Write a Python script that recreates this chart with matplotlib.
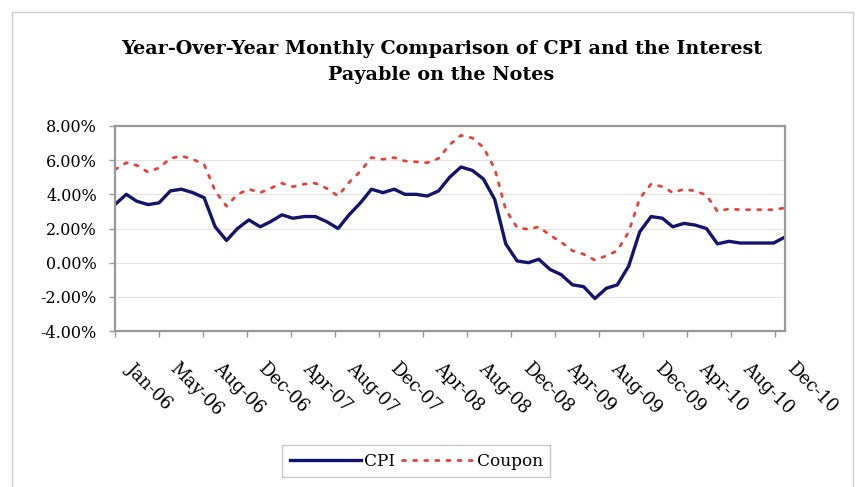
import pandas as pd
import matplotlib
matplotlib.use("Agg")
import matplotlib.pyplot as plt
import matplotlib.dates as mdates
from matplotlib.patches import Rectangle

# monthly points, Jan-06 .. Jan-11 (values in %)
fechas = pd.date_range("2006-01-01", periods=61, freq="MS")

cpi = [3.4, 4.0, 3.6, 3.4, 3.5, 4.2, 4.3, 4.1, 3.8, 2.1, 1.3, 2.0,
       2.5, 2.1, 2.4, 2.8, 2.6, 2.7, 2.7, 2.4, 2.0, 2.8, 3.5, 4.3,
       4.1, 4.3, 4.0, 4.0, 3.9, 4.2, 5.0, 5.6, 5.4, 4.9, 3.7, 1.1,
       0.1, 0.0, 0.2, -0.4, -0.7, -1.3, -1.4, -2.1, -1.5, -1.3, -0.2, 1.8,
       2.7, 2.6, 2.1, 2.3, 2.2, 2.0, 1.1, 1.25, 1.15, 1.15, 1.15, 1.15,
       1.5]

coupon = [5.45, 5.85, 5.7, 5.3, 5.55, 6.1, 6.25, 6.05, 5.75, 4.2, 3.3, 4.0,
          4.3, 4.1, 4.35, 4.65, 4.45, 4.6, 4.65, 4.35, 3.9, 4.7, 5.35, 6.15,
          6.05, 6.15, 5.95, 5.9, 5.85, 6.1, 6.9, 7.45, 7.3, 6.75, 5.5, 3.1,
          2.05, 1.95, 2.1, 1.6, 1.2, 0.7, 0.5, 0.15, 0.4, 0.7, 1.8, 3.75,
          4.6, 4.45, 4.1, 4.3, 4.2, 3.95, 3.0, 3.15, 3.1, 3.1, 3.1, 3.1,
          3.2]

# etiquetas cada 120 dias desde Jan-06 (como el eje de fechas original)
ticks_x = [fechas[0] + pd.Timedelta(days=120 * k) for k in range(16)]
etiquetas_x = [t.strftime("%b-%y") for t in ticks_x]
ticks_y = [-4, -2, 0, 2, 4, 6, 8]
etiquetas_y = ["%.2f%%" % v for v in ticks_y]

plt.rcParams["font.family"] = ["DejaVu Serif"]

fig = plt.figure(figsize=(8.67, 4.87), dpi=100)
ax = fig.add_axes([0.1326, 0.3203, 0.7728, 0.4210])

ax.plot(fechas, cpi, color="#14146e", linewidth=2.4, label="CPI",
        solid_joinstyle="round")
ax.plot(fechas, coupon, color="#e8413a", linewidth=2.0,
        linestyle=(0, (1.1, 2.9)), label="Coupon", dash_capstyle="round")

ax.set_xlim(fechas[0], fechas[-1])
ax.set_ylim(-4, 8)
ax.set_yticks(ticks_y)
ax.set_yticklabels(etiquetas_y, fontsize=11.5)
ax.set_xticks(ticks_x)
ax.set_xticklabels([])
# etiquetas rotadas a mano, para poder correrlas a la derecha del tick
for t, txt in zip(ticks_x, etiquetas_x):
    ax.annotate(txt, xy=(mdates.date2num(t.to_pydatetime()), 0),
                xycoords=ax.get_xaxis_transform(),
                xytext=(10, -25), textcoords="offset points", fontsize=12.8,
                rotation=-45, ha="left", va="center", rotation_mode="anchor",
                annotation_clip=False)

ax.grid(True, axis="y", color="#e4e4e4", linewidth=0.8)
ax.set_axisbelow(True)
for s in ax.spines.values():
    s.set_color("#999999")
    s.set_linewidth(1.6)
ax.tick_params(axis="both", color="#999999", direction="out", length=4, width=1)
ax.tick_params(axis="y", pad=9)

fig.text(0.509, 0.873, "Year-Over-Year Monthly Comparison of CPI and the Interest\n"
         "Payable on the Notes", ha="center", va="center", fontsize=13.8,
         fontweight="bold", linespacing=1.6)

leg = fig.legend(loc="center", bbox_to_anchor=(0.48, 0.053), ncol=2,
                 fontsize=12.2, frameon=True, fancybox=False, handlelength=4.2,
                 columnspacing=0.4, handletextpad=0.2, borderpad=0.45)
leg.get_frame().set_edgecolor("#bbbbbb")
leg.get_frame().set_linewidth(1.0)

fig.patches.append(Rectangle((12 / 867, -0.05), 841 / 867, 1 - 12 / 487 + 0.05,
                             transform=fig.transFigure, fill=False,
                             edgecolor="#d0d0d0", linewidth=1.0))

plt.savefig("out.png", dpi=100)
